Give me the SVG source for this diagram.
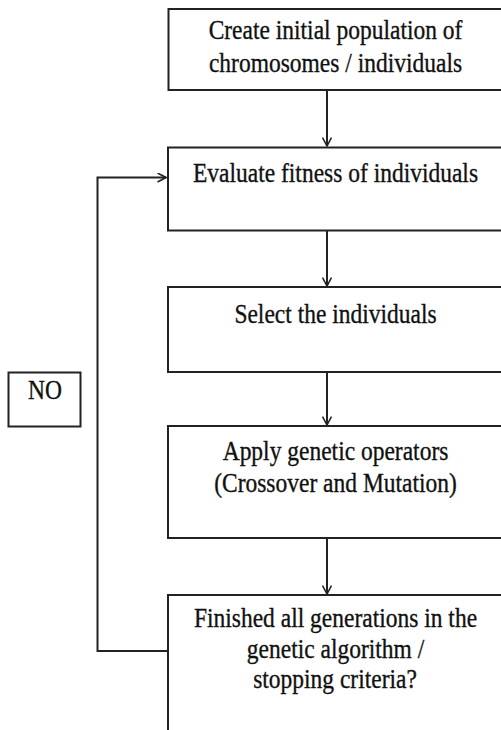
<svg xmlns="http://www.w3.org/2000/svg" width="501" height="730" viewBox="0 0 501 730">
<style>
.box{fill:#fff;stroke:#222;stroke-width:2}
.t{font-family:"Liberation Serif","Times New Roman",serif;font-size:23.5px;fill:#111;stroke:#111;stroke-width:0.3;text-anchor:middle}
.c{fill:none;stroke:#222;stroke-width:2}
</style>
<defs>
<marker id="ah" viewBox="0 0 10 10" refX="9.5" refY="5" markerWidth="10" markerHeight="10" markerUnits="userSpaceOnUse" orient="auto">
<path d="M1,0.5 L9.5,5 L1,9.5" fill="none" stroke="#222" stroke-width="1.6"/>
</marker>
</defs>
<rect width="501" height="730" fill="#fff"/>
<g id="connectors">
<line class="c" x1="327" y1="91" x2="327" y2="146" marker-end="url(#ah)"/>
<line class="c" x1="327" y1="231" x2="327" y2="286" marker-end="url(#ah)"/>
<line class="c" x1="327" y1="372" x2="327" y2="425" marker-end="url(#ah)"/>
<line class="c" x1="327" y1="538" x2="327" y2="594" marker-end="url(#ah)"/>
<polyline class="c" points="168,651 97.5,651 97.5,177.5 166,177.5" marker-end="url(#ah)"/>
</g>
<g id="n1">
<rect class="box" x="168.5" y="9" width="340" height="81"/>
<text class="t" transform="translate(335.5,39.3) scale(1,1.15)">Create initial population of</text>
<text class="t" transform="translate(335.5,71.5) scale(1,1.15)">chromosomes / individuals</text>
</g>
<g id="n2">
<rect class="box" x="168" y="147.5" width="340" height="83"/>
<text class="t" transform="translate(335.5,181.7) scale(1,1.15)">Evaluate fitness of individuals</text>
</g>
<g id="n3">
<rect class="box" x="168" y="287" width="340" height="85"/>
<text class="t" transform="translate(335.5,322.7) scale(1,1.15)">Select the individuals</text>
</g>
<g id="n4">
<rect class="box" x="168" y="426" width="340" height="112"/>
<text class="t" transform="translate(335.5,460) scale(1,1.15)">Apply genetic operators</text>
<text class="t" transform="translate(335.5,491.5) scale(1,1.15)">(Crossover and Mutation)</text>
</g>
<g id="n5">
<rect class="box" x="168" y="595" width="340" height="150"/>
<text class="t" transform="translate(335.5,627.3) scale(1,1.15)">Finished all generations in the</text>
<text class="t" transform="translate(335.5,658.3) scale(1,1.15)">genetic algorithm /</text>
<text class="t" transform="translate(335,688.3) scale(1,1.15)">stopping criteria?</text>
</g>
<g id="no">
<rect class="box" x="8.5" y="372.5" width="72" height="54"/>
<text class="t" transform="translate(45,399.3) scale(1,1.15)">NO</text>
</g>
</svg>
